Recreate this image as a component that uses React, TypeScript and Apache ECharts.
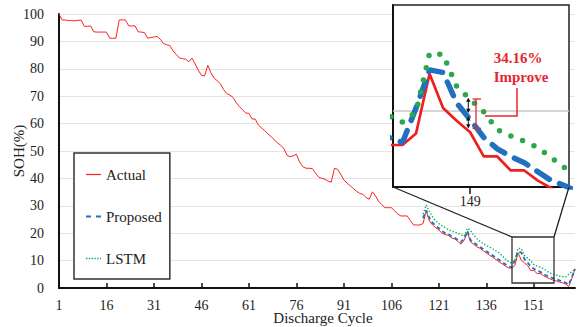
import { useEffect, useRef } from 'react';
import * as echarts from 'echarts';

// Discharge cycles 1..164
const cycles: string[] = Array.from({ length: 164 }, (_, i) => String(i + 1));

// Actual SOH (%) per cycle
const actual: number[] = [
  100, 97.8, 97.8, 97.6, 97.6, 97.5, 97.7, 97.8, 95.5, 95.5,
  95.6, 93.5, 93.4, 93.4, 93.4, 93.4, 91.2, 91.1, 91.2, 97.8,
  97.9, 97.8, 95.7, 95.6, 95.7, 93.5, 93.4, 93.2, 91.2, 91.4,
  91.6, 91.8, 90.8, 89.2, 88.8, 88.5, 86.6, 85.3, 84.0, 83.7,
  83.5, 82.6, 83.9, 81.8, 79.5, 77.6, 77.4, 81.3, 78.5, 76.6,
  75.6, 74.5, 72.4, 71.0, 70.4, 69.5, 67.6, 66.2, 65.0, 63.9,
  63.7, 61.7, 61.6, 59.5, 58.4, 57.4, 56.3, 55.2, 54.1, 53.0,
  52.1, 51.0, 48.5, 47.9, 48.3, 48.8, 46.0, 44.3, 43.7, 43.7,
  43.6, 42.0, 40.5, 40.0, 39.7, 39.0, 38.6, 43.7, 43.3, 41.5,
  39.4, 38.3, 37.3, 36.3, 35.3, 34.5, 34.2, 33.0, 32.4, 35.1,
  33.6, 31.6, 30.4, 29.3, 29.3, 29.3, 28.2, 27.0, 26.3, 26.3,
  26.3, 24.6, 23.0, 23.0, 23.0, 23.5, 28.3, 24.5, 23.0, 22.0,
  21.2, 20.0, 19.5, 19.2, 18.3, 17.9, 17.0, 16.0, 17.5, 20.4,
  16.8, 16.0, 15.0, 14.5, 13.6, 12.8, 12.0, 11.2, 10.4, 9.6,
  8.8, 8.0, 7.3, 7.3, 8.2, 12.9, 10.2, 9.2, 8.3, 6.4,
  6.4, 5.3, 5.3, 4.5, 3.9, 3.4, 2.9, 2.6, 2.2, 1.9,
  1.5, 0.5, 3.5, 6.8,
];

// Predictions start at this cycle
const predStartCycle = 116;

// Proposed model prediction, cycles 116..164
const proposed: number[] = [
  25.5, 28.3, 25.5, 23.8, 22.8, 21.8, 20.8, 20.0, 19.6, 18.9,
  18.3, 17.5, 16.8, 18.0, 20.8, 17.5, 16.6, 15.7, 15.0, 14.2,
  13.4, 12.6, 11.9, 11.1, 10.3, 9.5, 8.7, 7.9, 7.5, 10.2,
  13.2, 13.0, 10.6, 9.3, 7.9, 7.0, 6.4, 5.9, 5.2, 4.5,
  4.1, 3.6, 3.2, 2.8, 2.4, 2.0, 1.2, 4.0, 7.0,
];

// LSTM prediction, cycles 116..164
const lstm: number[] = [
  27.0, 30.3, 28.0, 26.0, 24.5, 23.5, 22.7, 22.0, 21.3, 20.8,
  20.4, 20.0, 19.4, 18.9, 21.8, 21.0, 19.2, 18.0, 17.0, 16.2,
  15.5, 14.9, 14.3, 13.6, 12.8, 11.8, 10.6, 9.6, 9.1, 9.9,
  14.5, 14.4, 11.9, 10.9, 9.9, 8.5, 8.0, 7.6, 7.1, 6.3,
  5.5, 5.1, 4.7, 4.4, 4.2, 4.0, 5.0, 6.0, 6.9,
];

// Main axis ticks
const yTicks = { min: 0, max: 100, interval: 10 };
const xLabelStep = 15;
// Inset (zoomed) window
const insetXRange = [143.3, 156.3];
const insetYRange = [4, 18.3];
const insetXTicks = [149];
const insetRefLine = 10;
const improveText = ['34.16%', 'Improve'];

const FONT = 'Liberation Serif';
const RED = '#ff2020';
const RED2 = '#ee1f1f';
const BLUE = '#2270c0';
const GREEN = '#10b050';
const GREEN2 = '#2aa84a';
const ANN_RED = '#e8262e';
const CLEAR = 'rgba(0,0,0,0)';

const pad = (arr: number[]) =>
  cycles.map((_, i) => (i + 1 >= predStartCycle ? arr[i + 1 - predStartCycle] : null));
const pairs = (arr: (number | null)[]) => cycles.map((c, i) => [Number(c), arr[i]]);
const everyStep = (index: number) => index % xLabelStep === 0;

export default function App() {
  const ref = useRef<HTMLDivElement>(null);
  useEffect(() => {
    if (!ref.current) return;
    const chart = echarts.init(ref.current, null, { renderer: 'svg' });
    const proposedFull = pad(proposed);
    const lstmFull = pad(lstm);

    const arrowHead = (x: number, y: number, up: boolean) => ({
      type: 'polygon',
      z: 20,
      shape: {
        points: up
          ? [[x, y], [x - 2.2, y + 4], [x + 2.2, y + 4]]
          : [[x, y], [x - 2.2, y - 4], [x + 2.2, y - 4]],
      },
      style: { fill: '#111' },
    });

    chart.setOption({
      animation: false,
      backgroundColor: '#fff',
      textStyle: { fontFamily: FONT },
      grid: [
        { left: 59, right: 5, top: 14, bottom: 39, containLabel: false, outerBoundsMode: 'none' },
        {
          left: 393, top: 5, width: 176, height: 182, show: true, containLabel: false, outerBoundsMode: 'none',
          backgroundColor: '#fff', borderColor: '#222', borderWidth: 1.5, z: 3,
        },
      ],
      legend: {
        data: [
          { name: 'Actual', lineStyle: { color: RED, width: 1.2, type: 'solid' } },
          { name: 'Proposed', lineStyle: { color: BLUE, width: 2, type: [5, 5] } },
          { name: 'LSTM', lineStyle: { color: GREEN, width: 1.4, type: [1.4, 1.4] } },
        ],
        orient: 'vertical',
        left: 74,
        top: 153,
        padding: [14, 8, 13, 11],
        itemGap: 27,
        itemWidth: 15,
        itemHeight: 14,
        borderColor: '#333',
        borderWidth: 1.5,
        backgroundColor: '#fff',
        itemStyle: { color: CLEAR, borderColor: CLEAR, borderWidth: 0, opacity: 0 },
        textStyle: { fontFamily: FONT, fontSize: 15, color: '#222' },
      },
      xAxis: [
        {
          type: 'category',
          data: cycles,
          boundaryGap: false,
          name: 'Discharge Cycle',
          nameLocation: 'middle',
          nameGap: 24,
          nameMoveOverlap: false,
          nameTextStyle: { fontFamily: FONT, fontSize: 15, lineHeight: 12, color: '#222', padding: [0, 0, 0, 12] },
          axisLine: { lineStyle: { color: '#111', width: 2 } },
          axisTick: { inside: true, length: 5, interval: everyStep, lineStyle: { color: '#111', width: 1.5 } },
          axisLabel: {
            interval: everyStep, margin: 12, fontFamily: FONT, fontSize: 14, lineHeight: 11, color: '#222',
            hideOverlap: false,
          },
          splitLine: { show: false },
        },
        {
          type: 'value',
          gridIndex: 1,
          min: insetXRange[0],
          max: insetXRange[1],
          z: 3,
          axisLine: { lineStyle: { color: '#111', width: 2 } },
          axisTick: { show: true, customValues: insetXTicks, length: 7, lineStyle: { color: '#111', width: 1.5 } },
          axisLabel: { customValues: insetXTicks, margin: 7, fontFamily: FONT, fontSize: 14, color: '#222' },
          splitLine: { show: false },
        },
      ],
      yAxis: [
        {
          type: 'value',
          min: yTicks.min,
          max: yTicks.max,
          interval: yTicks.interval,
          name: 'SOH(%)',
          nameLocation: 'middle',
          nameGap: 33,
          nameRotate: 90,
          nameMoveOverlap: false,
          nameTextStyle: { fontFamily: FONT, fontSize: 15, color: '#222' },
          axisLine: { show: true, lineStyle: { color: '#111', width: 2 } },
          axisTick: { show: false },
          axisLabel: { margin: 15, fontFamily: FONT, fontSize: 14, color: '#222' },
          splitLine: { lineStyle: { color: '#e4e4e4', width: 1 } },
        },
        {
          type: 'value',
          gridIndex: 1,
          min: insetYRange[0],
          max: insetYRange[1],
          z: 3,
          axisLine: { show: true, lineStyle: { color: '#111', width: 2 } },
          axisTick: { show: false },
          axisLabel: { show: false },
          splitLine: { show: false },
        },
      ],
      series: [
        {
          name: 'Actual', type: 'line', data: actual, symbol: 'none', z: 2,
          lineStyle: { color: RED, width: 1 }, itemStyle: { color: RED },
        },
        {
          name: 'Proposed', type: 'line', data: proposedFull, symbol: 'none', z: 2,
          lineStyle: { color: BLUE, width: 1.8, type: [4, 3] }, itemStyle: { color: BLUE },
        },
        {
          name: 'LSTM', type: 'line', data: lstmFull, symbol: 'none', z: 2,
          lineStyle: { color: GREEN, width: 1.4, type: [1.4, 1.8] }, itemStyle: { color: GREEN },
        },
        {
          name: 'Actual', type: 'line', xAxisIndex: 1, yAxisIndex: 1, data: pairs(actual),
          symbol: 'none', z: 5, clip: true,
          lineStyle: { color: RED2, width: 2.7 }, itemStyle: { color: RED2 },
          markLine: {
            silent: true, symbol: 'none', label: { show: false },
            lineStyle: { color: '#c8c8c8', width: 1.5, type: 'solid' },
            data: [{ yAxis: insetRefLine }],
          },
        },
        {
          name: 'Proposed', type: 'line', xAxisIndex: 1, yAxisIndex: 1, data: pairs(proposedFull),
          symbol: 'none', z: 5, clip: true,
          lineStyle: { color: BLUE, width: 5.5, type: [15, 11], cap: 'round' }, itemStyle: { color: BLUE },
        },
        {
          name: 'LSTM', type: 'line', xAxisIndex: 1, yAxisIndex: 1, data: pairs(lstmFull),
          symbol: 'none', z: 5, clip: true,
          lineStyle: { color: GREEN2, width: 5.5, type: [0, 12.5], cap: 'round' }, itemStyle: { color: GREEN2 },
        },
      ],
      graphic: [
        {
          type: 'rect', z: 10, shape: { x: 512, y: 237, width: 42, height: 46 },
          style: { fill: 'none', stroke: '#333', lineWidth: 1.3 },
        },
        { type: 'line', z: 10, shape: { x1: 393, y1: 187, x2: 512, y2: 237 }, style: { stroke: '#222', lineWidth: 1.3 } },
        { type: 'line', z: 10, shape: { x1: 569, y1: 187, x2: 554, y2: 237 }, style: { stroke: '#222', lineWidth: 1.3 } },
        {
          type: 'text', z: 20, x: 518, y: 58,
          style: { text: improveText[0], fill: ANN_RED, fontFamily: FONT, fontWeight: 'bold', fontSize: 15, align: 'center', verticalAlign: 'middle' },
        },
        {
          type: 'text', z: 20, x: 521, y: 77,
          style: { text: improveText[1], fill: ANN_RED, fontFamily: FONT, fontWeight: 'bold', fontSize: 15, align: 'center', verticalAlign: 'middle' },
        },
        {
          type: 'polyline', z: 20, shape: { points: [[517, 88], [517, 116], [485, 116]] },
          style: { stroke: ANN_RED, lineWidth: 1.5, fill: 'none' },
        },
        { type: 'line', z: 20, shape: { x1: 476, y1: 99, x2: 476, y2: 128.3 }, style: { stroke: ANN_RED, lineWidth: 1.3 } },
        { type: 'line', z: 20, shape: { x1: 472.5, y1: 99, x2: 481, y2: 99 }, style: { stroke: ANN_RED, lineWidth: 1.3 } },
        { type: 'line', z: 20, shape: { x1: 472.5, y1: 128.3, x2: 481, y2: 128.3 }, style: { stroke: ANN_RED, lineWidth: 1.3 } },
        { type: 'line', z: 20, shape: { x1: 468.3, y1: 99, x2: 468.3, y2: 112 }, style: { stroke: '#111', lineWidth: 1 } },
        { type: 'line', z: 20, shape: { x1: 468.3, y1: 117, x2: 468.3, y2: 127.5 }, style: { stroke: '#111', lineWidth: 1 } },
        arrowHead(468.3, 97.8, true),
        arrowHead(468.3, 112.8, false),
        arrowHead(468.3, 116.4, true),
        arrowHead(468.3, 128.3, false),
      ],
    });
    return () => chart.dispose();
  }, []);
  return (
    <div
      ref={ref}
      style={{ position: 'fixed', left: 0, top: 0, width: 580, height: 327, background: '#fff' }}
    />
  );
}
